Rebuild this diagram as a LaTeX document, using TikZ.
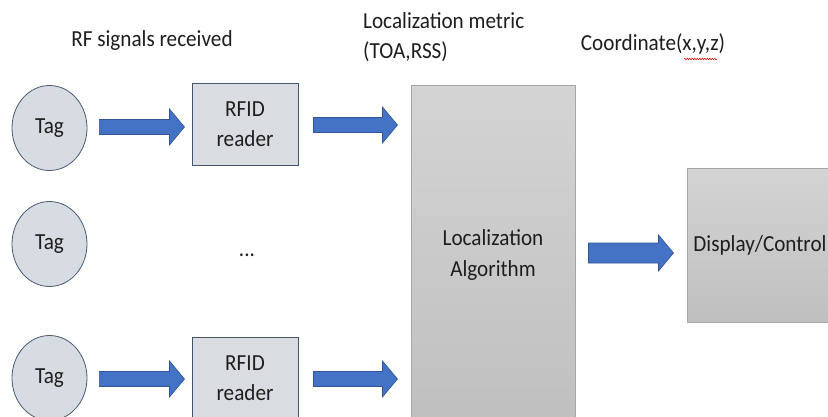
\documentclass[tikz,border=0pt]{standalone}
\usepackage{fontspec}
\setmainfont{Carlito}[FakeStretch=0.92]
\usetikzlibrary{shapes.geometric,calc,decorations.pathmorphing}
\definecolor{tagfill}{HTML}{D7DCE3}
\definecolor{tagline}{HTML}{4A5A70}
\definecolor{rdfill}{HTML}{D9DCE0}
\definecolor{rdline}{HTML}{44546A}
\definecolor{arrfill}{HTML}{4472C4}
\definecolor{arrline}{HTML}{2F5597}
\definecolor{txt}{HTML}{1E1E1E}
\definecolor{bigline}{HTML}{A6A6A6}
\newcommand\blockarr[3]{%
  \filldraw[arrowstyle] let \p1=#1, \p2=#2 in
   (\x1,\y1+#3) -- (\x2-15pt,\y1+#3) -- (\x2-15pt,\y1+18pt) -- (\x2,\y1)
   -- (\x2-15pt,\y1-18pt) -- (\x2-15pt,\y1-#3) -- (\x1,\y1-#3) -- cycle;}
\begin{document}
\begin{tikzpicture}[x=1pt,y=-1pt,
  every node/.style={text=txt,font=\fontsize{23}{30.5}\selectfont},
  tagnode/.style={ellipse,draw=tagline,line width=0.8pt,fill=tagfill,minimum width=75pt,minimum height=85pt,inner sep=0pt},
  readerbox/.style={rectangle,draw=rdline,line width=1pt,fill=rdfill,minimum width=106pt,minimum height=82pt,align=center,inner sep=0pt},
  bigbox/.style={rectangle,draw=bigline,line width=1pt,top color=black!17,bottom color=black!25,align=center,inner sep=0pt},
  arrowstyle/.style={fill=arrfill,draw=arrline,line width=0.6pt},
  lbl/.style={align=left,inner sep=0pt}]
\useasboundingbox (0,0) rectangle (828,416);
\clip (0,0) rectangle (828,416);
\fill[white] (0,0) rectangle (828,416);

\node[tagnode] (t1) at (49.5,128) {Tag};
\node[tagnode] (t2) at (49.5,244) {Tag};
\node[tagnode] (t3) at (49.5,378) {Tag};

\node[readerbox] (r1) at (245,124) {RFID\\reader};
\node[readerbox] (r2) at (245,378) {RFID\\reader};

\node (dots) at (247,255) {...};

\node[bigbox,minimum width=164pt,minimum height=340pt] (loc) at (493,255) {Localization\\Algorithm};
\node[bigbox,minimum width=146pt,minimum height=154pt] (disp) at (760,245) {Display/Control};

\node[lbl] (rf) at (152,40) {RF signals received};
\node[lbl,anchor=west] (metric) at (363,37) {Localization metric\\(TOA,RSS)};
\node[lbl] (coord) at (653,44) {Coordinate(x,y,z)};
\coordinate (sq1) at (684,59);
\coordinate (sq2) at (717,59);
\draw[red!85!black,line width=0.5pt,decorate,decoration={snake,amplitude=0.8pt,segment length=2.5pt}] (sq1) -- (sq2);

\blockarr{($(t1.east)+(12pt,1pt)$)}{($(r1.west)+(-7pt,0)$)}{7.5pt}
\blockarr{($(r1.east)+(15pt,-1pt)$)}{($(loc.west|-r1.east)+(-13pt,0)$)}{7.5pt}
\blockarr{($(t3.east)+(12pt,-1pt)$)}{($(r2.west)+(-7pt,0)$)}{7.5pt}
\blockarr{($(r2.east)+(15pt,-1pt)$)}{($(loc.west|-r2.east)+(-13pt,0)$)}{7.5pt}
\blockarr{($(loc.east|-disp.west)+(13pt,-8pt)$)}{($(disp.west)+(-13pt,0)$)}{10pt}
\end{tikzpicture}
\end{document}
